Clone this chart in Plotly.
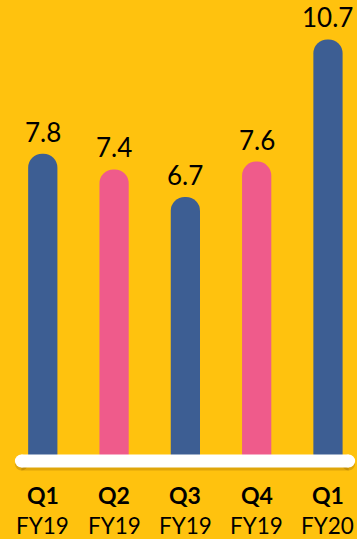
import plotly.graph_objects as go

quarters = ["Q1", "Q2", "Q3", "Q4", "Q1"]
years = ["FY19", "FY19", "FY19", "FY19", "FY20"]
values = [7.8, 7.4, 6.7, 7.6, 10.7]
colors = ["#3D5E93", "#EF5B8B", "#3D5E93", "#EF5B8B", "#3D5E93"]

BG = "#FFC20E"
xs = list(range(len(values)))

fig = go.Figure()
fig.add_trace(go.Bar(
    x=xs, y=values, width=0.41,
    marker=dict(color=colors, line=dict(width=0), cornerradius="50%"),
    hoverinfo="skip",
))

font = "Lato, Carlito, Calibri, sans-serif"
for x, v in zip(xs, values):
    fig.add_annotation(x=x, y=v, text=f"{v}", showarrow=False, yanchor="middle",
                       yshift=22, borderpad=0,
                       font=dict(family=font, size=26, color="#000000"))
for x, q, yr in zip(xs, quarters, years):
    fig.add_annotation(x=x, y=0, text=f"<b>{q}</b>", showarrow=False, yanchor="middle",
                       yshift=-34, borderpad=0, height=26,
                       font=dict(family=font, size=23, color="#000000"))
    fig.add_annotation(x=x, y=0, text=yr, showarrow=False, yanchor="middle",
                       yshift=-64, borderpad=0, height=22,
                       font=dict(family=font, size=22.5, color="#000000"))

# white rounded baseline with soft shadow
line_x0, line_x1 = -0.30, 4.29
for dy, col in [(-3, "rgba(110,70,0,0.22)"), (0, "#FFFFFF")]:
    fig.add_shape(type="rect", xref="x", yref="y", x0=line_x0, x1=line_x1,
                  ysizemode="pixel", yanchor=0, y0=-6.5 + dy, y1=6.5 + dy,
                  fillcolor=col, line=dict(width=0), layer="above")
    for cx in (line_x0, line_x1):
        fig.add_shape(type="circle", xref="x", yref="y", xsizemode="pixel", ysizemode="pixel",
                      xanchor=cx, yanchor=0, x0=-6.5, x1=6.5, y0=-6.5 + dy, y1=6.5 + dy,
                      fillcolor=col, line=dict(width=0), layer="above")

fig.update_layout(
    width=357, height=539,
    margin=dict(l=0, r=0, t=0, b=0),
    paper_bgcolor=BG, plot_bgcolor=BG,
    showlegend=False,
    xaxis=dict(range=[-0.6, 4.407], visible=False, fixedrange=True),
    yaxis=dict(range=[-1.98, 11.70], visible=False, fixedrange=True),
)

fig.write_html("out.html")
